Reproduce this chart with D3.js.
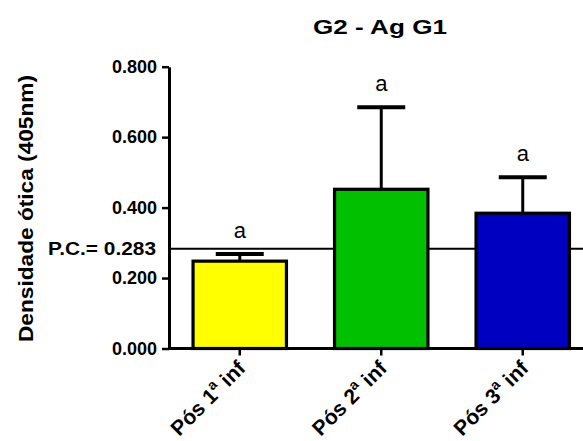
<!DOCTYPE html>
<html>
<head>
<meta charset="utf-8">
<script src="https://cdn.jsdelivr.net/npm/d3@7"></script>
<style>
  body { margin: 0; background: #fff; }
  text { font-family: Arial, "Liberation Sans", sans-serif; }
</style>
</head>
<body>
<svg id="chart"></svg>
<script>
var categories = ["Pós 1ª inf", "Pós 2ª inf", "Pós 3ª inf"];
var means = [0.248, 0.452, 0.384];
var errors = [0.020, 0.233, 0.102];
var letters = ["a", "a", "a"];
var barColors = ["#ffff00", "#00c000", "#0000c0"];
var yTicks = [0, 0.2, 0.4, 0.6, 0.8];
var cutoff = 0.283;

var W = 583, H = 441;
var svg = d3.select("#chart").attr("width", W).attr("height", H);

var x = d3.scaleBand()
  .domain(categories)
  .range([169, 593.5])
  .paddingInner(0.34)
  .paddingOuter(0.17);

var y = d3.scaleLinear()
  .domain([0, 0.8])
  .range([348.5, 66.7]);

// title
svg.append("text")
  .attr("x", 380).attr("y", 34)
  .attr("text-anchor", "middle")
  .attr("font-size", 20).attr("font-weight", "bold")
  .attr("textLength", 134).attr("lengthAdjust", "spacingAndGlyphs")
  .text("G2 - Ag G1");

// y axis title
svg.append("text")
  .attr("transform", "translate(33,208.5) rotate(-90)")
  .attr("text-anchor", "middle")
  .attr("font-size", 21).attr("font-weight", "bold")
  .attr("textLength", 267).attr("lengthAdjust", "spacingAndGlyphs")
  .text("Densidade ótica (405nm)");

// cut-off line
svg.append("line")
  .attr("x1", 169).attr("x2", W)
  .attr("y1", y(cutoff)).attr("y2", y(cutoff))
  .attr("stroke", "#000").attr("stroke-width", 2);

svg.append("text")
  .attr("x", 48).attr("y", y(cutoff))
  .attr("dy", "0.36em")
  .attr("font-size", 18).attr("font-weight", "bold")
  .attr("textLength", 108).attr("lengthAdjust", "spacingAndGlyphs")
  .text("P.C.= " + d3.format(".3f")(cutoff));

// bars
svg.append("g").selectAll("rect")
  .data(means)
  .enter().append("rect")
  .attr("x", function(d, i) { return x(categories[i]); })
  .attr("y", function(d) { return y(d); })
  .attr("width", x.bandwidth())
  .attr("height", function(d) { return y(0) - y(d); })
  .attr("fill", function(d, i) { return barColors[i]; })
  .attr("stroke", "#000")
  .attr("stroke-width", 3.2);

// error bars
var eb = svg.append("g");
means.forEach(function(m, i) {
  var cx = x(categories[i]) + x.bandwidth() / 2;
  eb.append("line")
    .attr("x1", cx).attr("x2", cx)
    .attr("y1", y(m)).attr("y2", y(m + errors[i]))
    .attr("stroke", "#000").attr("stroke-width", 3);
  eb.append("line")
    .attr("x1", cx - 24).attr("x2", cx + 24)
    .attr("y1", y(m + errors[i])).attr("y2", y(m + errors[i]))
    .attr("stroke", "#000").attr("stroke-width", 4);
  eb.append("text")
    .attr("x", cx).attr("y", y(m + errors[i]) - 16)
    .attr("text-anchor", "middle")
    .attr("font-size", 22)
    .text(letters[i]);
});

// y axis
var yAxis = svg.append("g")
  .attr("transform", "translate(169,0)")
  .call(d3.axisLeft(y).tickValues(yTicks).tickFormat(d3.format(".3f"))
    .tickSize(7).tickSizeOuter(0).tickPadding(5));
yAxis.select(".domain").attr("stroke-width", 3);
yAxis.selectAll(".tick line").attr("stroke-width", 2.5);
yAxis.selectAll(".tick text")
  .attr("font-size", 18).attr("font-weight", "bold")
  .attr("font-family", "Arial, 'Liberation Sans', sans-serif")
  .attr("fill", "#000");

// x axis
var xAxis = svg.append("g")
  .attr("transform", "translate(0," + y(0) + ")")
  .call(d3.axisBottom(x).tickSize(7).tickSizeOuter(0).tickFormat(""));
xAxis.select(".domain").attr("d", "M169,0H" + W).attr("stroke-width", 3);
xAxis.selectAll(".tick line").attr("stroke-width", 2.5);

// rotated category labels with superscript
categories.forEach(function(c, i) {
  var parts = c.split("ª");
  var cx = x(c) + x.bandwidth() / 2;
  var t = svg.append("text")
    .attr("transform", "translate(" + (cx + 7) + "," + (y(0) + 21) + ") rotate(-45)")
    .attr("text-anchor", "end")
    .attr("font-size", 21).attr("font-weight", "bold");
  t.append("tspan").text(parts[0]);
  t.append("tspan").attr("font-size", 14).attr("dy", -9).text("a");
  t.append("tspan").attr("dy", 9).text(parts[1]);
});
</script>
</body>
</html>
